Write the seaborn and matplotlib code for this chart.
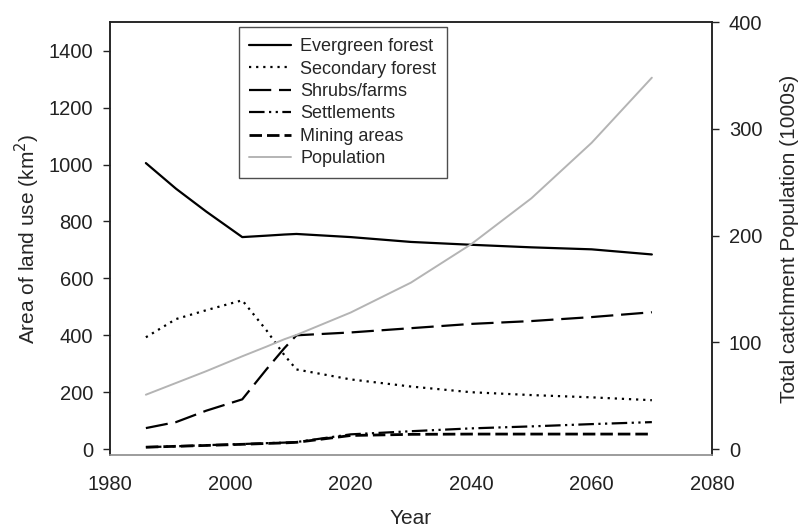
"""
Land use areas and catchment population, 1986-2070.
"""

import matplotlib
matplotlib.use('Agg')
import matplotlib.pyplot as plt
import seaborn as sns

# years
years = [1986, 1991, 1996, 2002, 2006, 2009, 2011, 2020, 2030, 2040, 2050, 2060, 2070]

# land use areas (km2)
evergreen = [1005, 915, 835, 745, 750, 754, 756, 745, 728, 718, 709, 702, 684]
secondary = [393, 457, 488, 523, 418, 330, 280, 245, 220, 200, 190, 182, 172]
shrubs = [74, 95, 135, 175, 280, 355, 400, 410, 425, 440, 450, 464, 481]
settlements = [7, 10, 14, 18, 21, 23, 25, 52, 63, 73, 80, 88, 95]
mining = [7, 10, 13, 17, 20, 22, 24, 48, 52, 53, 53, 53, 53]

# total catchment population (1000s)
population = [51, 62, 73, 87, 96, 103, 107, 128, 156, 192, 235, 287, 348]

sns.set_style('white')
plt.rcParams['font.family'] = ['Liberation Sans', 'DejaVu Sans']

fig = plt.figure(figsize=(8.01, 5.28), dpi=100)
ax = fig.add_axes([0.137, 0.138, 0.752, 0.820])
ax2 = ax.twinx()

sns.lineplot(x=years, y=evergreen, ax=ax, color='black', lw=1.6,
             linestyle='-', label='Evergreen forest')
sns.lineplot(x=years, y=secondary, ax=ax, color='black', lw=1.6,
             linestyle=(0, (1, 2.2)), label='Secondary forest')
sns.lineplot(x=years, y=shrubs, ax=ax, color='black', lw=1.6,
             linestyle=(0, (10, 3.5)), label='Shrubs/farms')
sns.lineplot(x=years, y=settlements, ax=ax, color='black', lw=1.6,
             linestyle=(0, (7, 2, 1, 2, 1, 2)), label='Settlements')
sns.lineplot(x=years, y=mining, ax=ax, color='black', lw=2.0,
             linestyle=(0, (4.5, 1.8)), label='Mining areas')
sns.lineplot(x=years, y=population, ax=ax2, color='#b4b4b4', lw=1.4,
             linestyle='-', label='Population')

ax.set_xlim(1980, 2080)
ax.set_ylim(-21, 1500)
ax2.set_ylim(-5.6, 400)
ax.set_xticks(range(1980, 2081, 20))
ax.set_yticks(range(0, 1401, 200))
ax2.set_yticks(range(0, 401, 100))

ax.set_xlabel('Year', fontsize=15, labelpad=11)
ax.set_ylabel('Area of land use (km$^2$)', fontsize=15, labelpad=5)
ax2.set_ylabel('Total catchment Population (1000s)', fontsize=15, labelpad=13)

for a in (ax, ax2):
    a.tick_params(direction='out', length=5, width=1, labelsize=14.5,
                  pad=7, colors='#222222')
    for side in a.spines:
        a.spines[side].set_color('#222222')
        a.spines[side].set_linewidth(1.1)
ax2.spines['bottom'].set_color('#999999')
ax.spines['bottom'].set_color('#999999')
ax.tick_params(axis='x', length=5, pad=9, colors='#999999',
               labelcolor='#222222')

# one legend for both axes
handles, labels = ax.get_legend_handles_labels()
h2, l2 = ax2.get_legend_handles_labels()
ax2.get_legend().remove()
ax.get_legend().remove()
leg = ax.legend(handles + h2, labels + l2, loc='upper left',
                bbox_to_anchor=(0.214, 0.988), borderaxespad=0,
                fontsize=13, frameon=True, fancybox=False,
                handlelength=2.3, handletextpad=0.5, labelspacing=0.3,
                borderpad=0.6)
leg.get_frame().set_edgecolor('#222222')
leg.get_frame().set_linewidth(1.0)

fig.savefig('out.png', dpi=100)
